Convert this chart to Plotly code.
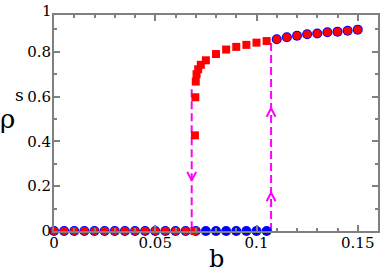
import plotly.graph_objects as go

# ---- data ----
# upward sweep (blue circles)
up_b = [0.0, 0.005, 0.01, 0.015, 0.02, 0.025, 0.03, 0.035, 0.04, 0.045, 0.05,
        0.055, 0.06, 0.065, 0.07, 0.075, 0.08, 0.085, 0.09, 0.095, 0.1, 0.105,
        0.11, 0.115, 0.12, 0.125, 0.13, 0.135, 0.14, 0.145, 0.15]
up_rho = [0.0] * 22 + [0.856, 0.865, 0.872, 0.878, 0.882, 0.887, 0.890, 0.894, 0.899]

# downward sweep, upper branch coinciding with upward sweep (red circles)
down_hi_b = [0.15, 0.145, 0.14, 0.135, 0.13, 0.125, 0.12, 0.115, 0.11]
down_hi_rho = [0.899, 0.894, 0.890, 0.887, 0.882, 0.878, 0.872, 0.865, 0.856]

# downward sweep, hysteresis branch (red squares)
down_mid_b = [0.105, 0.1, 0.095, 0.09, 0.085, 0.08, 0.075, 0.0725, 0.0712,
              0.0704, 0.0700, 0.0698, 0.0696, 0.0694]
down_mid_rho = [0.848, 0.841, 0.831, 0.822, 0.810, 0.790, 0.762, 0.742, 0.722,
                0.700, 0.667, 0.597, 0.427, 0.0]

# downward sweep, lower branch (red circles)
down_lo_b = [0.065, 0.06, 0.055, 0.05, 0.045, 0.04, 0.035, 0.03, 0.025, 0.02,
             0.015, 0.01, 0.005, 0.0]
down_lo_rho = [0.0] * 14

# hysteresis guide lines (magenta dashed)
jump_down_b = 0.068
jump_down_rho = [0.633, 0.0]
jump_up_b = 0.1072
jump_up_rho = [0.0, 0.845]

# arrowheads: (b, rho at tip, direction)
arrow_b = [0.068, 0.1072, 0.1072]
arrow_rho = [0.226, 0.548, 0.171]
arrow_dir = [-1, 1, 1]

x_ticks = [0, 0.05, 0.1, 0.15]
x_ticktext = ["0", "0.05", "0.1", "0.15"]
y_ticks = [0, 0.2, 0.4, 0.6, 0.8]
y_ticktext = ["0", "0.2", "0.4", "0.6", "0.8"]
y_top_label = "1"
Y_MAX = 0.9643

MAG = "#ff00ff"
FONT = "DejaVu Serif"

fig = go.Figure()

# dashed lines
fig.add_trace(go.Scatter(x=[jump_down_b, jump_down_b], y=jump_down_rho, mode="lines",
                         line=dict(color=MAG, width=2, dash="8px,4px"),
                         hoverinfo="skip", cliponaxis=False))
fig.add_trace(go.Scatter(x=[jump_up_b, jump_up_b], y=jump_up_rho, mode="lines",
                         line=dict(color=MAG, width=2, dash="8px,4px"),
                         hoverinfo="skip", cliponaxis=False))

# arrowheads (open V)
dx = 0.0022
dy = 0.038
ax, ay = [], []
for b, r, d in zip(arrow_b, arrow_rho, arrow_dir):
    ax += [b - dx, b, b + dx, None]
    ay += [r - d * dy, r, r - d * dy, None]
fig.add_trace(go.Scatter(x=ax, y=ay, mode="lines", line=dict(color=MAG, width=2),
                         hoverinfo="skip", cliponaxis=False))

# blue circles
fig.add_trace(go.Scatter(x=up_b, y=up_rho, mode="markers",
                         marker=dict(symbol="circle", size=10, color="#0000ff",
                                     line=dict(width=0)),
                         cliponaxis=False))
# red markers
fig.add_trace(go.Scatter(x=down_hi_b + down_lo_b, y=down_hi_rho + down_lo_rho,
                         mode="markers",
                         marker=dict(symbol="circle", size=8, color="#ff0000",
                                     line=dict(width=0)),
                         cliponaxis=False))
fig.add_trace(go.Scatter(x=down_mid_b, y=down_mid_rho, mode="markers",
                         marker=dict(symbol="square", size=8, color="#ff0000",
                                     line=dict(width=0)),
                         cliponaxis=False))

axis_common = dict(showline=True, linecolor="#808080", linewidth=2, mirror="ticks",
                   ticks="inside", tickcolor="#808080", tickwidth=1.5, ticklen=6,
                   showgrid=False, zeroline=False,
                   tickfont=dict(family=FONT, size=15, color="black"))

fig.update_xaxes(range=[0, 0.16], tickvals=x_ticks, ticktext=x_ticktext,
                 ticklabelstandoff=-3,
                 minor=dict(dtick=0.01, ticks="inside", ticklen=3, tickcolor="#808080",
                            tickwidth=1.5, showgrid=False),
                 **axis_common)
fig.update_yaxes(range=[0, Y_MAX], tickvals=y_ticks, ticktext=y_ticktext,
                 ticklabelstandoff=-2,
                 minor=dict(dtick=0.1, ticks="inside", ticklen=3, tickcolor="#808080",
                            tickwidth=1.5, showgrid=False),
                 **axis_common)

fig.add_annotation(x=0.5, xref="paper", y=-0.13, yref="paper", text="b", showarrow=False,
                   font=dict(family=FONT, size=24, color="black"),
                   xanchor="center", yanchor="middle")
fig.add_annotation(x=0.0, xref="paper", y=231 / 216, yref="paper", text=y_top_label,
                   showarrow=False,
                   font=dict(family=FONT, size=15, color="black"),
                   xanchor="right", yanchor="top", xshift=0)
fig.add_annotation(x=-0.142, xref="paper", y=0.52, yref="paper", text="ρ", showarrow=False,
                   font=dict(family=FONT, size=26, color="black"),
                   xanchor="center", yanchor="middle")
fig.add_annotation(x=-0.105, xref="paper", y=0.63, yref="paper", text="s", showarrow=False,
                   font=dict(family=FONT, size=17, color="black"),
                   xanchor="center", yanchor="middle")

fig.update_layout(width=382, height=273, margin=dict(l=54, r=2, t=15, b=42),
                  paper_bgcolor="white", plot_bgcolor="white", showlegend=False,
                  font=dict(family=FONT))

fig.write_html("out.html", config={"displayModeBar": False},
               post_script="document.body.style.margin='0';document.body.style.padding='0';")
